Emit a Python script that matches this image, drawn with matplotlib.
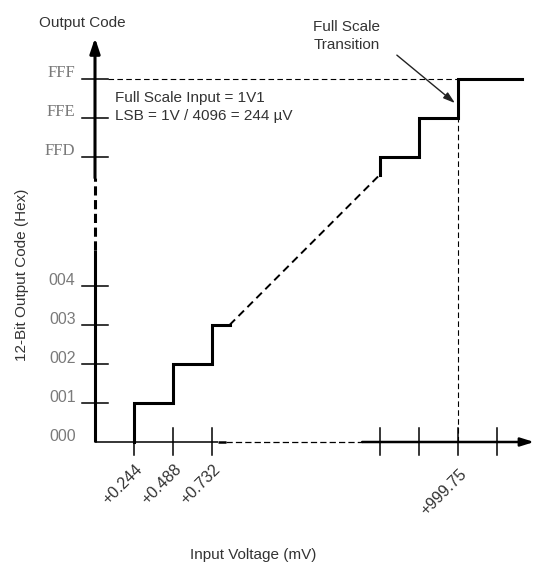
import matplotlib
matplotlib.use("Agg")
import matplotlib.pyplot as plt

# ---- data (diagram units: 1 unit = 1 LSB step) ----
code_labels_low = ['000', '001', '002', '003', '004']
code_pos_low = [0, 1, 2, 3, 4]
code_labels_high = ['FFD', 'FFE', 'FFF']
code_pos_high = [7.3, 8.3, 9.3]
x_ticks_low = [1, 2, 3]
x_ticks_high = [7.3, 8.3, 9.3, 10.3]
x_tick_labels_low = ['+0.244', '+0.488', '+0.732']
x_tick_label_fs = '+999.75'
fs_index = 2  # index in x_ticks_high of full-scale transition
upper_start = 6.85  # level where upper staircase begins
lower_end = 3.45   # x where lower staircase ends
right_end = 10.95

U = 39.0
fig = plt.figure(figsize=(5.34, 5.67), dpi=100)
ax = fig.add_axes([0, 0, 1, 1])
ax.set_xlim(-95 / U, 439 / U)
ax.set_ylim(-125 / U, 442 / U)
ax.axis('off')

sans = 'Liberation Sans'
txtc = '#333333'
tickc = '#7a7a7a'
lw_thick = 2.2
lw_thin = 1.1

# ---- lower staircase ----
xs = [x_ticks_low[0]]
ys = [0]
for i, xv in enumerate(x_ticks_low):
    xs += [xv, xv]
    ys += [code_pos_low[i], code_pos_low[i + 1]]
    nxt = x_ticks_low[i + 1] if i + 1 < len(x_ticks_low) else lower_end
    xs.append(nxt)
    ys.append(code_pos_low[i + 1])
ax.plot(xs, ys, color='k', lw=lw_thick, solid_joinstyle='miter')

# dashed diagonal
ax.plot([lower_end, x_ticks_high[0]], [code_pos_low[3], upper_start],
        color='k', lw=1.4, ls=(0, (4, 2.5)))

# ---- upper staircase ----
xs = [x_ticks_high[0]]
ys = [upper_start]
levels = [upper_start] + code_pos_high
for i in range(3):
    xv = x_ticks_high[i]
    xs += [xv, xv]
    ys += [levels[i], levels[i + 1]]
    nxt = x_ticks_high[i + 1] if i + 1 < 3 else right_end
    xs.append(nxt)
    ys.append(levels[i + 1])
ax.plot(xs, ys, color='k', lw=lw_thick, solid_joinstyle='miter')

# ---- guide dashed lines ----
fsx = x_ticks_high[fs_index]
ax.plot([0.33, fsx], [code_pos_high[2], code_pos_high[2]], color='k', lw=0.8,
        ls=(0, (5, 3)))
ax.plot([fsx, fsx], [0, code_pos_high[1]], color='k', lw=0.8, ls=(0, (5, 3)))

# ---- y axis ----
ax.plot([0, 0], [0, 4.92], color='k', lw=lw_thick, solid_capstyle='butt')
ax.plot([0, 0], [4.92, 6.77], color='k', lw=lw_thick, ls=(0, (3, 1.5)))
ax.annotate('', xy=(0, 10.36), xytext=(0, 6.77),
            arrowprops=dict(arrowstyle='-|>,head_length=0.9,head_width=0.3',
                            lw=lw_thick, color='k', shrinkA=0, shrinkB=0))

# ---- x axis ----
ax.plot([0, 3.15], [0, 0], color='k', lw=1.1, solid_capstyle='butt')
ax.plot([3.15, 3.35], [0, 0], color='k', lw=1.8, solid_capstyle='butt')
ax.plot([3.35, 6.85], [0, 0], color='k', lw=0.9, ls=(0, (5, 2.5)))
ax.annotate('', xy=(11.26, 0), xytext=(6.85, 0),
            arrowprops=dict(arrowstyle='-|>,head_length=0.8,head_width=0.25',
                            lw=1.8, color='k', shrinkA=0, shrinkB=0))

# ---- y ticks ----
for p in code_pos_low[1:] + code_pos_high:
    ax.plot([-0.33, 0.33], [p, p], color='k', lw=lw_thin)
for lab, p in zip(code_labels_low, code_pos_low):
    ax.text(-0.5, p + 0.15, lab, ha='right', va='center', fontsize=11.5,
            color=tickc, family=sans)
for lab, p in zip(code_labels_high, code_pos_high):
    ax.text(-0.5, p + 0.15, lab, ha='right', va='center', fontsize=12,
            color=tickc, family='Liberation Serif')

# ---- x ticks ----
for p in x_ticks_low + x_ticks_high:
    ax.plot([p, p], [-0.33, 0.36], color='k', lw=lw_thin)
for lab, p in zip(x_tick_labels_low, x_ticks_low):
    ax.text(p + 0.02, -0.5, lab, ha='right', va='top', rotation=45,
            rotation_mode='anchor', fontsize=11.5, color=txtc, family=sans)
ax.text(fsx + 0.02, -0.62, x_tick_label_fs, ha='right', va='top', rotation=45,
        rotation_mode='anchor', fontsize=11.5, color=txtc, family=sans)

# ---- texts ----
ax.text(-0.33, 10.75, 'Output Code', ha='center', va='center', fontsize=11,
        color=txtc, family=sans)
ax.text(-1.87, 4.28, '12-Bit Output Code (Hex)', ha='center', va='center',
        rotation=90, fontsize=11, color=txtc, family=sans)
ax.text(0.52, 8.82, 'Full Scale Input = 1V1', ha='left', va='center',
        fontsize=11, color=txtc, family=sans)
ax.text(0.52, 8.36, 'LSB = 1V / 4096 = 244 µV', ha='left', va='center',
        fontsize=11, color=txtc, family=sans)
ax.text(6.45, 10.4, 'Full Scale\nTransition', ha='center', va='center',
        fontsize=11, color=txtc, family=sans, linespacing=1.35)
ax.annotate('', xy=(9.23, 8.69), xytext=(7.74, 9.92),
            arrowprops=dict(arrowstyle='-|>,head_length=0.7,head_width=0.22',
                            lw=1.0, color='#222222', shrinkA=0, shrinkB=0))
ax.text(4.05, -2.9, 'Input Voltage (mV)', ha='center', va='center',
        fontsize=11, color=txtc, family=sans)

fig.savefig('out.png', dpi=100)
